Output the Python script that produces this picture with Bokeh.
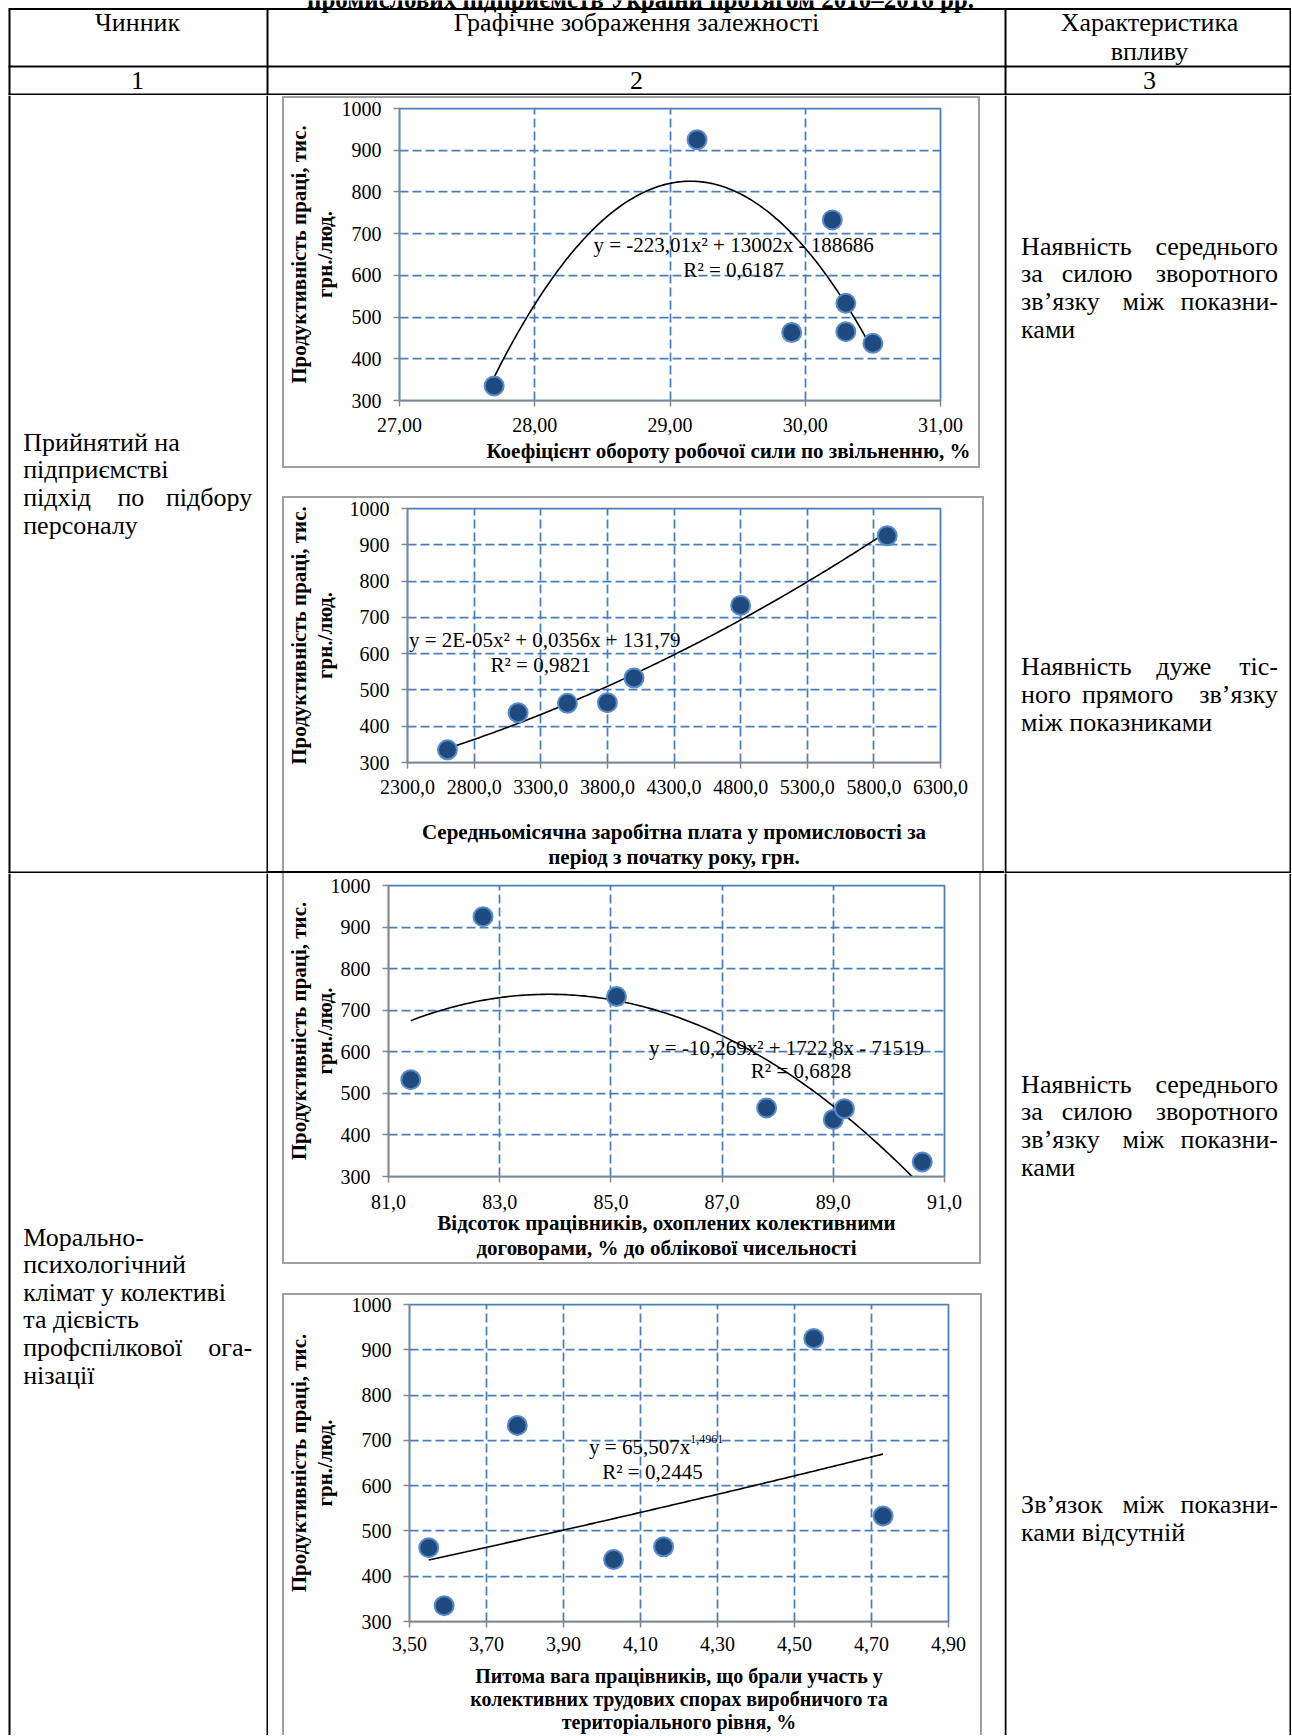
import numpy as np
from bokeh.plotting import figure
from bokeh.layouts import column, row
from bokeh.models import Range1d, Label, Spacer, Title
from bokeh.core.properties import value
from bokeh.embed import file_html
from bokeh.resources import INLINE

# ---------------- data ----------------
y_ticks = [300, 400, 500, 600, 700, 800, 900, 1000]
y_title = "Продуктивність праці, тис.\nгрн./люд."

c1_x = [27.7, 29.2, 29.9, 30.2, 30.3, 30.3, 30.5]
c1_y = [335, 925, 463, 733, 533, 465, 437]
c1_xticks = [27, 28, 29, 30, 31]
c1_xlabels = ["27,00", "28,00", "29,00", "30,00", "31,00"]
c1_trend = [-223.01, 13002, -188686]
c1_eq = "y = -223,01x² + 13002x - 188686"
c1_r2 = "R² = 0,6187"
c1_xtitle = "Коефіцієнт обороту робочої сили по звільненню, %"

c2_x = [2600, 3130, 3500, 3800, 4000, 4800, 5900]
c2_y = [335, 437, 463, 465, 533, 733, 925]
c2_xticks = [2300, 2800, 3300, 3800, 4300, 4800, 5300, 5800, 6300]
c2_xlabels = ["2300,0", "2800,0", "3300,0", "3800,0", "4300,0", "4800,0", "5300,0", "5800,0", "6300,0"]
c2_eq = "y = 2E-05x² + 0,0356x + 131,79"
c2_r2 = "R² = 0,9821"
c2_xtitle = "Середньомісячна заробітна плата у промисловості за\nперіод з початку року, грн."

c3_x = [81.4, 82.7, 85.1, 87.8, 89.0, 89.2, 90.6]
c3_y = [533, 925, 733, 465, 437, 463, 335]
c3_xticks = [81, 83, 85, 87, 89, 91]
c3_xlabels = ["81,0", "83,0", "85,0", "87,0", "89,0", "91,0"]
c3_trend = [-10.269, 1722.8, -71519]
c3_eq = "y = -10,269x² + 1722,8x - 71519"
c3_r2 = "R² = 0,6828"
c3_xtitle = "Відсоток працівників, охоплених колективними\nдоговорами, % до облікової чисельності"

c4_x = [3.55, 3.59, 3.78, 4.03, 4.16, 4.55, 4.73]
c4_y = [463, 335, 733, 437, 465, 925, 533]
c4_xticks = [3.5, 3.7, 3.9, 4.1, 4.3, 4.5, 4.7, 4.9]
c4_xlabels = ["3,50", "3,70", "3,90", "4,10", "4,30", "4,50", "4,70", "4,90"]
c4_coef = 65.507
c4_pow = 1.4961
c4_eq = "y = 65,507x"
c4_eq_sup = "1,4961"
c4_r2 = "R² = 0,2445"
c4_xtitle = "Питома вага працівників, що брали участь у\nколективних трудових спорах виробничого та\nтериторіального рівня, %"

table_title = "промислових підприємств України протягом 2010–2016 рр."
head_texts = ["Чинник", "Графічне зображення залежності", "Характеристика", "впливу"]
col_numbers = ["1", "2", "3"]
factor1 = [["Прийнятий", "на"], ["підприємстві"], ["підхід", "по", "підбору"], ["персоналу"]]
factor1_just = [False, False, True, False]
factor2 = [["Морально-"], ["психологічний"], ["клімат", "у", "колективі"], ["та", "дієвість"],
           ["профспілкової", "ога-"], ["нізації"]]
factor2_just = [False, False, False, False, True, False]
char_mid = [["Наявність", "середнього"], ["за", "силою", "зворотного"], ["зв’язку", "між", "показни-"], ["ками"]]
char_mid_just = [True, True, True, False]
char_strong = [["Наявність", "дуже", "тіс-"], ["ного", "прямого", "зв’язку"], ["між", "показниками"]]
char_strong_just = [True, True, False]
char_none = [["Зв’язок", "між", "показни-"], ["ками", "відсутній"]]
char_none_just = [True, False]

# ---------------- styles ----------------
SERIF = "Liberation Serif"
TSIZE = 26
LINE_H = 27.6
GRID_BLUE = "#4a7ebb"
AXIS_GRAY = "#868686"
BOX_GRAY = "#a0a0a0"
MARK_FILL = "#1f4a7e"
MARK_LINE = "#5a8ccc"


def text_fig(w, h, bg="white"):
    p = figure(width=w, height=h, x_range=Range1d(0, w), y_range=Range1d(h, 0),
               x_axis_type=None, y_axis_type=None, toolbar_location=None,
               output_backend="svg", min_border=0, outline_line_color=None,
               background_fill_color=bg, border_fill_color=bg)
    return p


def bar(w, h, color):
    return Spacer(width=w, height=h, styles={"background-color": color})


def put(p, x, y, txt, align="center", size=TSIZE, style="normal", baseline="middle"):
    p.text(x=[x], y=[y], text=[txt], text_font=value(SERIF), text_font_size=value(f"{size}px"),
           text_font_style=style, text_align=align, text_baseline=baseline, text_color="black")


def paragraph(p, lines, just, xl, xr, y0):
    for i, (words, j) in enumerate(zip(lines, just)):
        y = y0 + i * LINE_H
        if not j or len(words) == 1:
            put(p, xl, y, " ".join(words), "left")
            continue
        est = [len(w) * 0.52 * TSIZE for w in words]
        gap = (xr - xl - sum(est)) / (len(words) - 1)
        pos = xl
        for k, w in enumerate(words):
            if k == len(words) - 1:
                put(p, xr, y, w, "right")
            else:
                put(p, pos, y, w, "left")
            pos += est[k] + gap


def hline(p, y, x0, x1):
    p.segment(x0=[x0], y0=[y], x1=[x1], y1=[y], line_color="black", line_width=2)


def vline(p, x, y0, y1):
    p.segment(x0=[x], y0=[y0], x1=[x], y1=[y1], line_color="black", line_width=2)


def make_chart(w, h, mb, xr, xticks, xlabels, xtitle, xs, ys, tx, ty,
               ylab_standoff, xlab_standoff, x_tick_standoff, xtitle_size="21px", title_below=None):
    p = figure(width=w, height=h, x_range=Range1d(*xr), y_range=Range1d(300, 1000),
               toolbar_location=None, output_backend="svg",
               min_border_left=mb[0], min_border_right=mb[1], min_border_top=mb[2], min_border_bottom=mb[3],
               outline_line_color=GRID_BLUE, outline_line_width=1.75,
               background_fill_color="white", border_fill_color="white")
    p.xaxis.ticker = xticks
    p.xaxis.major_label_overrides = dict(zip(xticks, xlabels))
    p.yaxis.ticker = y_ticks
    p.xgrid.ticker = xticks
    p.ygrid.ticker = y_ticks
    for g in (p.xgrid, p.ygrid):
        g.grid_line_color = GRID_BLUE
        g.grid_line_width = 1.75
        g.grid_line_dash = "9 4"
    for ax in (p.xaxis, p.yaxis):
        ax.axis_line_color = AXIS_GRAY
        ax.axis_line_width = 1.5
        ax.major_tick_line_color = AXIS_GRAY
        ax.major_tick_line_width = 1.5
        ax.major_tick_out = 6
        ax.major_tick_in = 0
        ax.minor_tick_line_color = None
        ax.major_label_text_font = SERIF
        ax.major_label_text_font_size = "20px"
        ax.major_label_text_color = "black"
        ax.axis_label_text_font = SERIF
        ax.axis_label_text_font_size = "21px"
        ax.axis_label_text_font_style = "bold"
        ax.axis_label_text_color = "black"
        ax.axis_label_text_line_height = 1.05
    p.xaxis.axis_label_text_font_size = xtitle_size
    p.yaxis.major_label_standoff = 12
    p.xaxis.major_label_standoff = x_tick_standoff
    p.yaxis.axis_label = y_title
    p.yaxis.axis_label_standoff = ylab_standoff
    if title_below is None:
        p.xaxis.axis_label = xtitle
        p.xaxis.axis_label_standoff = xlab_standoff
    else:
        align, offset = title_below
        p.add_layout(Title(text=xtitle, align=align, offset=offset, standoff=xlab_standoff,
                           text_font=SERIF, text_font_size=xtitle_size, text_font_style="bold",
                           text_color="black"), "below")
    p.line(tx, ty, line_color="black", line_width=1.6)
    p.scatter(xs, ys, size=19, fill_color=MARK_FILL, line_color=MARK_LINE, line_width=2)
    return p


def boxed(chart, w, top=True, bottom=True):
    """Wrap a chart figure in a thin grey frame."""
    hi = chart.height
    parts = []
    if top:
        parts.append(bar(w, 2, BOX_GRAY))
    parts.append(row(bar(2, hi, BOX_GRAY), chart, bar(2, hi, BOX_GRAY)))
    if bottom:
        parts.append(bar(w, 2, BOX_GRAY))
    return column(*parts)


def eq_label(p, x, y, txt, align="center", size="21px"):
    p.add_layout(Label(x=x, y=y, text=txt, text_font=SERIF, text_font_size=size,
                       text_align=align, text_baseline="middle", text_color="black"))


# ---------------- charts ----------------
t1x = np.linspace(min(c1_x), max(c1_x), 200)
t1y = np.polyval(c1_trend, t1x)
ch1 = make_chart(694, 368, (113, 38, 10, 66), (27, 31), c1_xticks, c1_xlabels, c1_xtitle,
                 c1_x, c1_y, t1x, t1y, 2, 5, 11, title_below=("right", -30))
eq_label(ch1, 29.47, 672, c1_eq)
eq_label(ch1, 29.47, 614, c1_r2)

c2_fit = np.polyfit(c2_x, c2_y, 2)
t2x = np.linspace(min(c2_x), max(c2_x), 200)
t2y = np.polyval(c2_fit, t2x)
ch2 = make_chart(698, 373, (121, 42, 10, 108), (2300, 6300), c2_xticks, c2_xlabels, c2_xtitle,
                 c2_x, c2_y, t2x, t2y, 10, 23, 11)
eq_label(ch2, 3330, 637, c2_eq)
eq_label(ch2, 3300, 569, c2_r2)

t3x = np.linspace(min(c3_x), max(c3_x), 200)
t3y = np.polyval(c3_trend, t3x)
ch3 = make_chart(695, 389, (101, 35, 12, 81), (81, 91), c3_xticks, c3_xlabels, c3_xtitle,
                 c3_x, c3_y, t3x, t3y, -9, -1, 12)
eq_label(ch3, 88.16, 608, c3_eq)
eq_label(ch3, 88.42, 554, c3_r2)

t4x = np.linspace(min(c4_x), max(c4_x), 200)
t4y = c4_coef * t4x ** c4_pow
ch4 = make_chart(696, 440, (123, 32, 9, 112), (3.5, 4.9), c4_xticks, c4_xlabels, c4_xtitle,
                 c4_x, c4_y, t4x, t4y, 12, 11, 9, xtitle_size="20px")
eq_label(ch4, 4.229, 686, c4_eq, align="right")
eq_label(ch4, 4.229, 702, c4_eq_sup, align="left", size="12px")
eq_label(ch4, 4.131, 630, c4_r2)

# ---------------- table cells ----------------
W = 1291
header = text_fig(W, 95)
put(header, 640, -1, table_title, size=25, style="bold")
hline(header, 8.5, 8, W)
hline(header, 66, 8, W)
hline(header, 94, 8, W)
for xx in (9, 267, 1005, 1290):
    vline(header, xx, 8.5, 95)
put(header, 137, 22, head_texts[0])
put(header, 636, 22, head_texts[1])
put(header, 1149, 22, head_texts[2])
put(header, 1149, 51, head_texts[3])
put(header, 137, 80, col_numbers[0])
put(header, 636, 80, col_numbers[1])
put(header, 1149, 80, col_numbers[2])

ROW1_H = 778
ROW2_H = 862

L1 = text_fig(268, ROW1_H)
vline(L1, 9, 0, ROW1_H)
vline(L1, 267, 0, ROW1_H)
hline(L1, 777, 8, 268)
paragraph(L1, factor1, factor1_just, 22.7, 251.7, 346.7)

R1 = text_fig(287, ROW1_H)
vline(R1, 1, 0, ROW1_H)
vline(R1, 286, 0, ROW1_H)
hline(R1, 777, 0, 287)
paragraph(R1, char_mid, char_mid_just, 16.6, 273.5, 150.8)
paragraph(R1, char_strong, char_strong_just, 16.6, 273.5, 571.4)

L2 = text_fig(268, ROW2_H)
vline(L2, 9, 0, ROW2_H)
vline(L2, 267, 0, ROW2_H)
paragraph(L2, factor2, factor2_just, 22.7, 251.7, 363.5)

R2 = text_fig(287, ROW2_H)
vline(R2, 1, 0, ROW2_H)
vline(R2, 286, 0, ROW2_H)
paragraph(R2, char_mid, char_mid_just, 16.6, 273.5, 210.8)
paragraph(R2, char_none, char_none_just, 16.6, 273.5, 631.4)

M1 = column(
    Spacer(width=736, height=1),
    row(Spacer(width=14, height=372), boxed(ch1, 698), Spacer(width=24, height=372)),
    Spacer(width=736, height=28),
    row(Spacer(width=14, height=375), boxed(ch2, 702, bottom=False), Spacer(width=20, height=375)),
    bar(736, 2, "black"),
)
M2 = column(
    row(Spacer(width=14, height=391), boxed(ch3, 699, top=False), Spacer(width=23, height=391)),
    Spacer(width=736, height=29),
    row(Spacer(width=14, height=442), boxed(ch4, 700, bottom=False), Spacer(width=22, height=442)),
)

page = column(header, row(L1, M1, R1), row(L2, M2, R2))

open("out.html", "w").write(file_html(page, INLINE))
